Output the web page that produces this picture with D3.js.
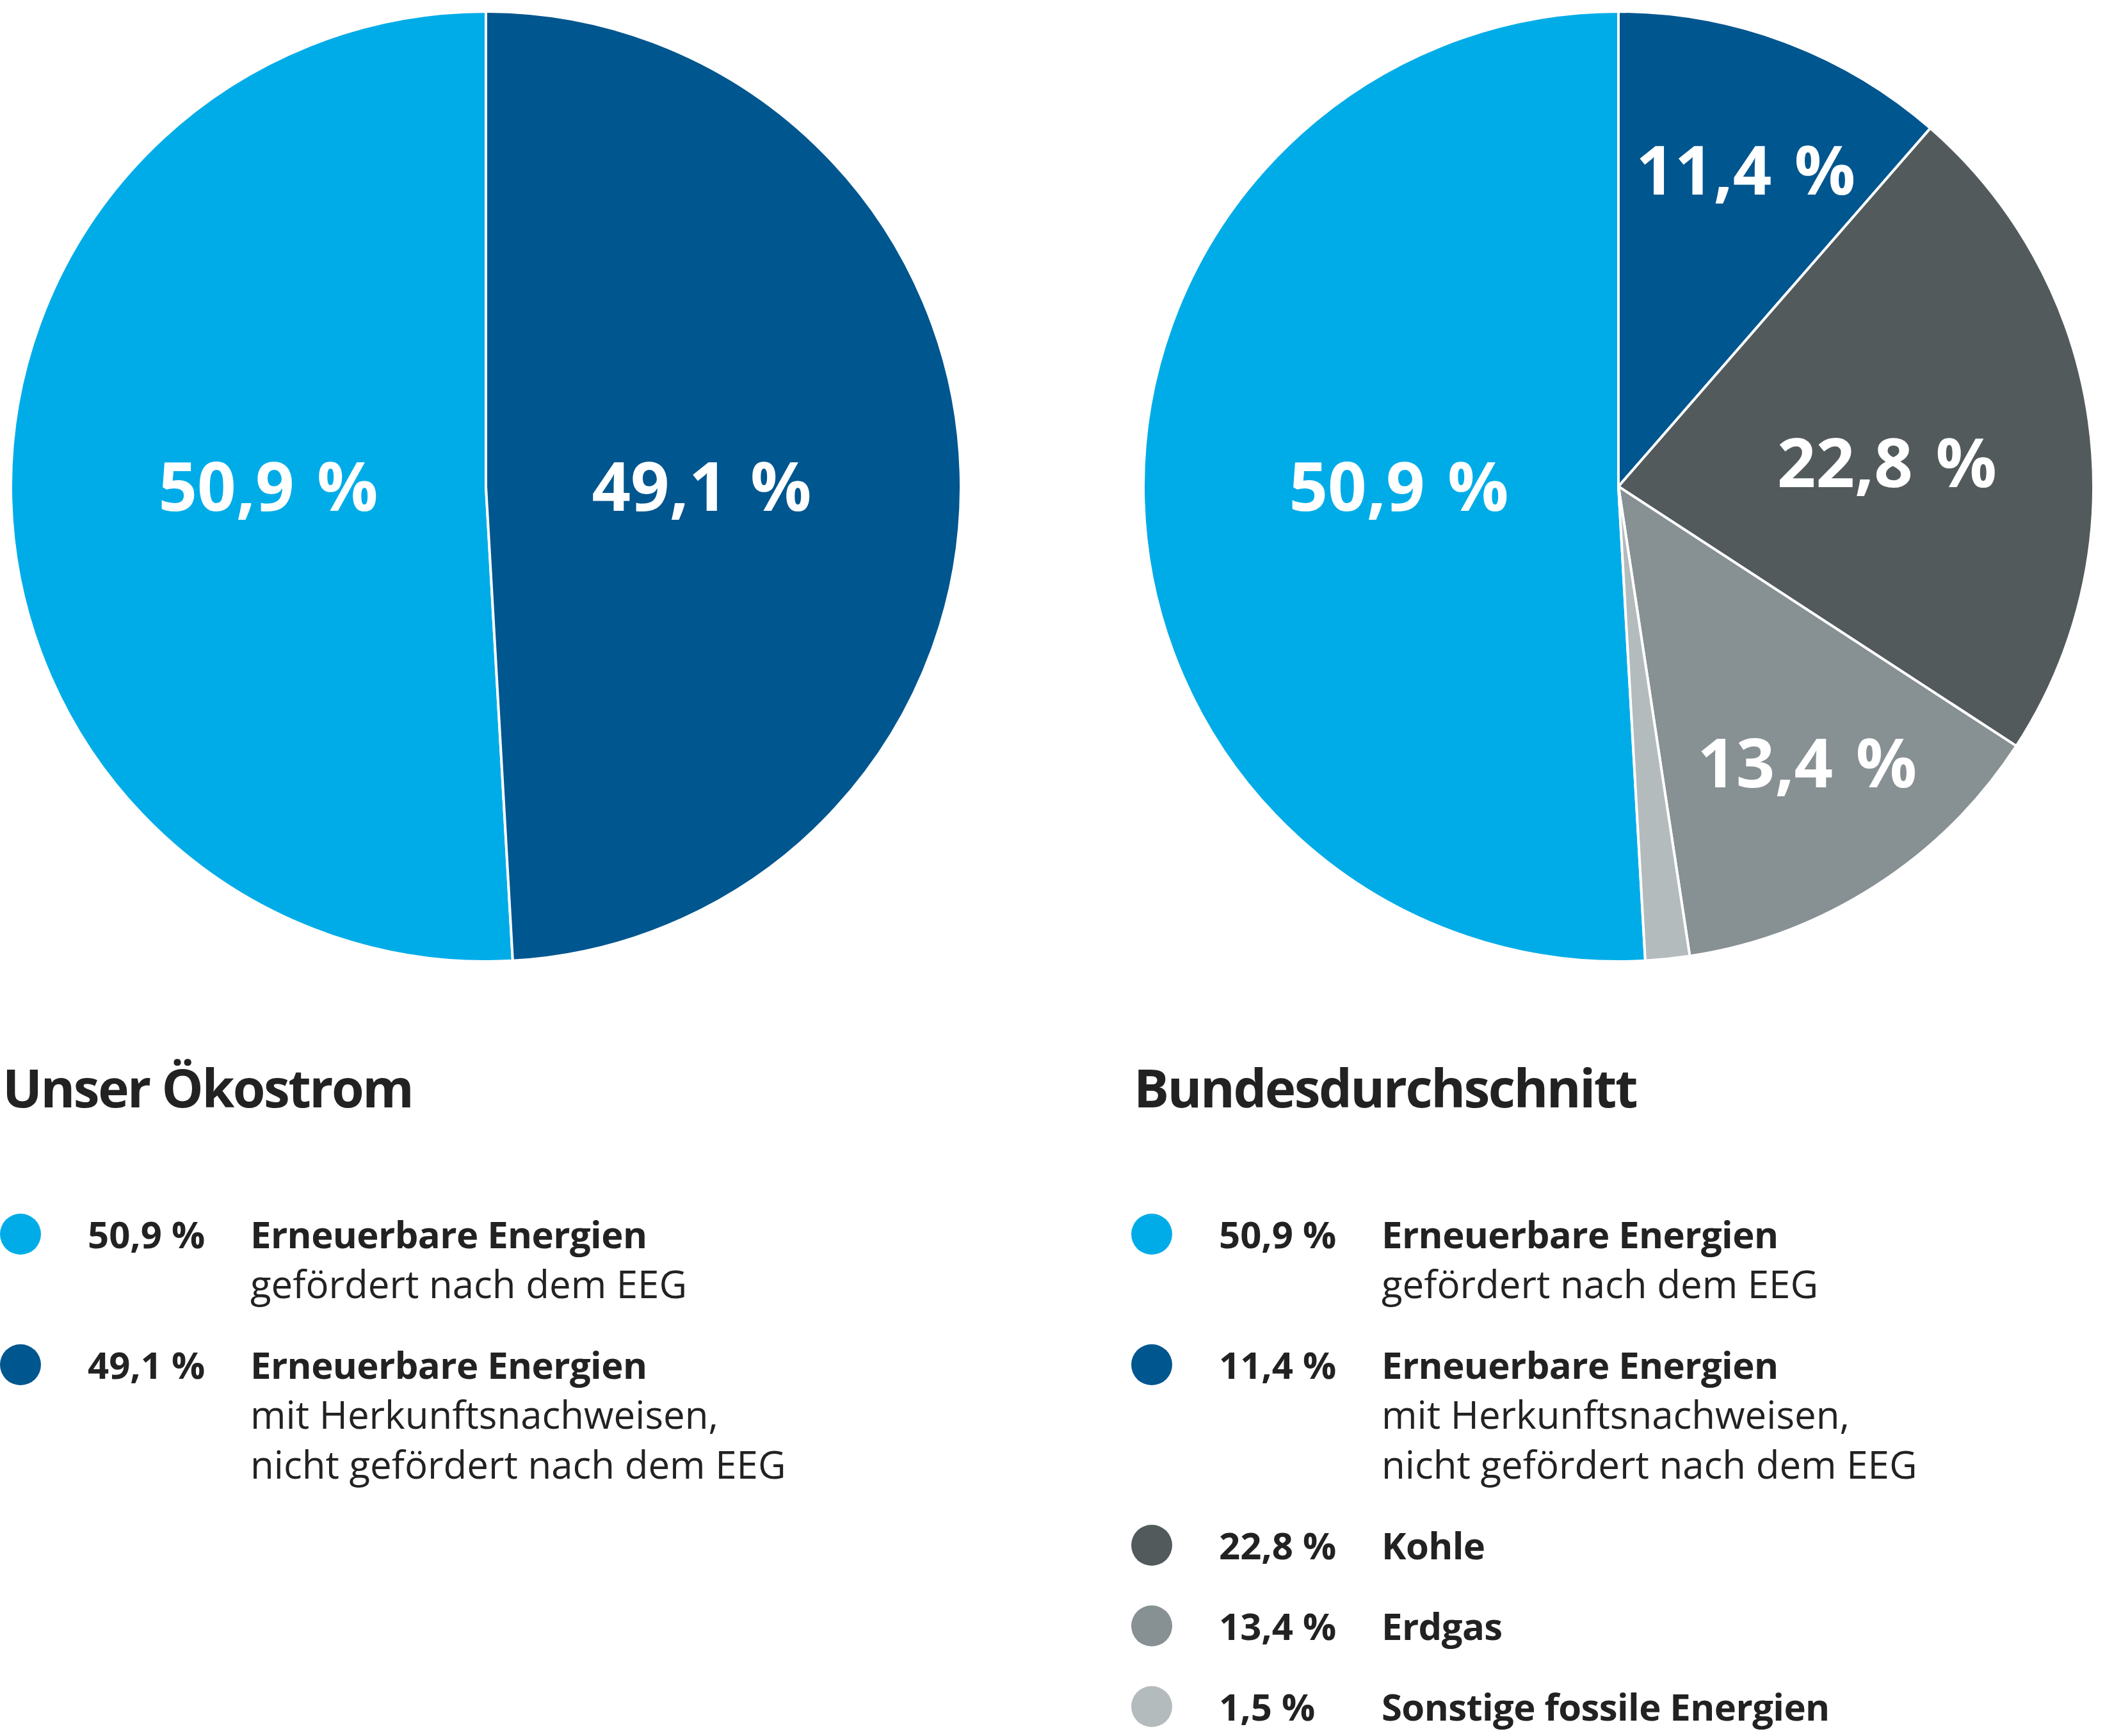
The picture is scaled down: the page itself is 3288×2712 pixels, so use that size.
<!DOCTYPE html>
<html>
<head>
<meta charset="utf-8">
<script src="https://cdn.jsdelivr.net/npm/d3@7"></script>
<style>
  html, body { margin: 0; padding: 0; background: #fff; }
  svg { display: block; font-family: "Open Sans", "Noto Sans", sans-serif; }
</style>
</head>
<body>
<div id="chart"></div>
<script>
// Data
const categories = ['eeg', 'hkn', 'kohle', 'erdgas', 'sonstige'];
const leftValues = [50.9, 49.1];              // Unser Ökostrom
const rightValues = [50.9, 11.4, 22.8, 13.4, 1.5]; // Bundesdurchschnitt
const titles = ['Unser Ökostrom', 'Bundesdurchschnitt'];
const legendTexts = [
    ['Erneuerbare Energien', 'gefördert nach dem EEG'],
    ['Erneuerbare Energien', 'mit Herkunftsnachweisen,', 'nicht gefördert nach dem EEG'],
    ['Kohle'],
    ['Erdgas'],
    ['Sonstige fossile Energien']
];
const colors = ['#00ace8', '#00568f', '#525a5c', '#879093', '#b3bbbd'];

const W = 3288, H = 2712;
const fmt = v => v.toFixed(1).replace('.', ',') + ' %';

const svg = d3.select('#chart').append('svg')
    .attr('width', W)
    .attr('height', H);

const color = d3.scaleOrdinal().domain(categories).range(colors);

// ---------------------------------------------------------------------------
// Pies: first slice (EEG) ends at 12 o'clock, the rest run clockwise from there
// labelPos: [radius, angle in degrees clockwise from top] per slice, null = no label
// ---------------------------------------------------------------------------
function drawPie(cx, cy, r, values, labelPos) {
    const data = values.map((v, i) => ({ key: categories[i], value: v, i: i }));
    const start = -2 * Math.PI * values[0] / d3.sum(values);
    const pie = d3.pie().sort(null).value(d => d.value)
        .startAngle(start).endAngle(start + 2 * Math.PI);
    const arcs = pie(data);
    const arc = d3.arc().innerRadius(0).outerRadius(r);

    const g = svg.append('g').attr('transform', `translate(${cx},${cy})`);

    g.selectAll('path')
        .data(arcs)
        .enter()
        .append('path')
        .attr('d', arc)
        .attr('fill', d => color(d.data.key))
        .attr('stroke', '#fff')
        .attr('stroke-width', 4)
        .attr('stroke-linejoin', 'round');

    g.selectAll('text')
        .data(arcs.filter(d => labelPos[d.data.i]))
        .enter()
        .append('text')
        .attr('transform', d => {
            const [lr, deg] = labelPos[d.data.i];
            const a = deg * Math.PI / 180;
            return `translate(${lr * Math.sin(a)},${-lr * Math.cos(a)})`;
        })
        .attr('dy', '0.36em')
        .attr('text-anchor', 'middle')
        .attr('fill', '#fff')
        .style('font-size', '106px')
        .style('font-weight', 700)
        .style('word-spacing', '8px')
        .text(d => fmt(d.data.value));
}

drawPie(759, 760, 742, leftValues, [[340, 270], [337, 90]]);
drawPie(2528, 760, 742, rightValues, [[343, 270], [533, 21.9], [421, 85], [523, 145.7], null]);

// ---------------------------------------------------------------------------
// Titles and legends
// ---------------------------------------------------------------------------
function drawLegend(x0, title, values) {
    const g = svg.append('g').attr('transform', `translate(${x0},0)`);

    g.append('text')
        .attr('x', 4)
        .attr('y', 1730)
        .attr('fill', '#222')
        .style('font-size', '82px')
        .style('font-weight', 700)
        .style('letter-spacing', '-2.5px')
        .text(title);

    let y = 1950;
    values.forEach((v, i) => {
        const row = g.append('g');
        row.append('circle')
            .attr('cx', 32)
            .attr('cy', y - 22)
            .attr('r', 32)
            .attr('fill', color(categories[i]));
        row.append('text')
            .attr('x', 137)
            .attr('y', y)
            .attr('fill', '#222')
            .style('font-size', '58px')
            .style('font-weight', 700)
            .text(fmt(v));
        legendTexts[i].forEach((line, j) => {
            row.append('text')
                .attr('x', 391)
                .attr('y', y + j * 78)
                .attr('fill', '#222')
                .style('font-size', j === 0 ? '58px' : '60px')
                .style('font-weight', j === 0 ? 700 : 400)
                .style('letter-spacing', j === 0 ? '-0.6px' : '0px')
                .text(line);
        });
        y += (legendTexts[i].length - 1) * 78 + 126;
    });
}

drawLegend(0, titles[0], leftValues);
drawLegend(1767, titles[1], rightValues);
</script>
</body>
</html>
